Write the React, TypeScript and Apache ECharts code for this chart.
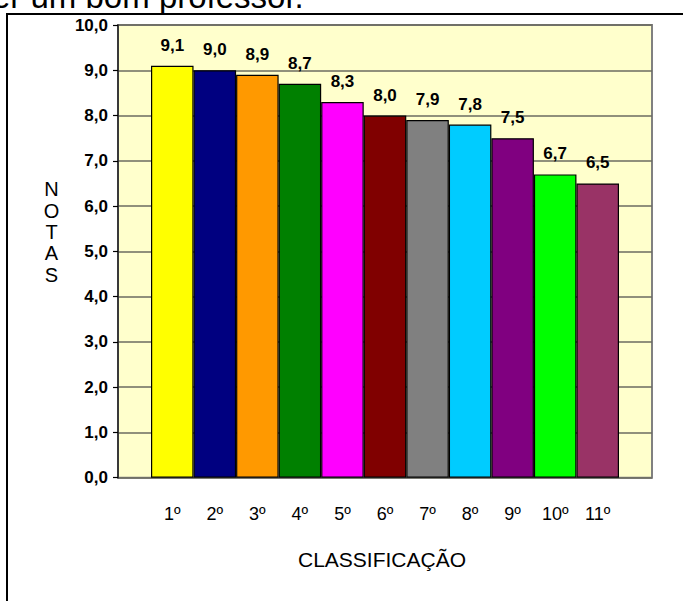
import React, { useEffect, useRef } from "react";
import * as echarts from "echarts";

const categories = ["1º", "2º", "3º", "4º", "5º", "6º", "7º", "8º", "9º", "10º", "11º"];
const notas = [9.1, 9.0, 8.9, 8.7, 8.3, 8.0, 7.9, 7.8, 7.5, 6.7, 6.5];
const barColors = [
  "#FFFF00", "#000080", "#FF9900", "#008000", "#FF00FF", "#800000",
  "#808080", "#00CCFF", "#800080", "#00FF00", "#993366",
];
const yMin = 0;
const yMax = 10;
const yInterval = 1;

const FONT = "'Liberation Sans', Arial, sans-serif";
const fmt = (v: number) => v.toFixed(1).replace(".", ",");

export default function App() {
  const ref = useRef<HTMLDivElement>(null);
  useEffect(() => {
    if (!ref.current) return;
    const chart = echarts.init(ref.current, null, { renderer: "svg" });
    const top = 25;
    const height = 452.7;
    chart.setOption({
      animation: false,
      backgroundColor: "#FFFFFF",
      grid: [
        {
          left: 118, top, width: 534, height,
          show: true, backgroundColor: "#FFFFCC",
          borderColor: "#808080", borderWidth: 2,
        },
        { left: 151, top, width: 468, height },
      ],
      xAxis: [
        { type: "value", gridIndex: 0, min: 0, max: 1, show: false },
        {
          type: "category", gridIndex: 1, data: categories,
          axisLine: { show: false }, axisTick: { show: false },
          axisLabel: { margin: 27, fontSize: 18, color: "#000", fontFamily: FONT },
        },
      ],
      yAxis: [
        {
          type: "value", gridIndex: 0, min: yMin, max: yMax, interval: yInterval,
          axisLine: { show: true, lineStyle: { color: "#222", width: 1.5 } },
          axisTick: { show: true, length: 5, inside: false, lineStyle: { color: "#000", width: 1.2 } },
          axisLabel: {
            margin: 10, fontSize: 17, fontWeight: "bold", color: "#000", fontFamily: FONT,
            formatter: (v: number) => fmt(v),
          },
          splitLine: { show: true, lineStyle: { color: "#6b6b60", width: 1.5 } },
        },
        { type: "value", gridIndex: 1, min: yMin, max: yMax, interval: yInterval, show: false },
      ],
      series: [
        {
          type: "bar", xAxisIndex: 1, yAxisIndex: 1,
          barCategoryGap: "0%",
          data: notas.map((v, i) => ({
            value: v,
            itemStyle: { color: barColors[i], borderColor: "#000", borderWidth: 1.2 },
          })),
          label: {
            show: true, position: "top", distance: 12,
            fontSize: 17, fontWeight: "bold", color: "#000", fontFamily: FONT,
            formatter: (p: any) => fmt(p.value),
          },
        },
      ],
      graphic: [
        {
          type: "rect", z: 0,
          shape: { x: 7, y: 14, width: 720, height: 700 },
          style: { fill: "none", stroke: "#000", lineWidth: 2 },
        },
        {
          type: "text", x: -24.5, y: -4,
          style: {
            text: "ser um bom professor.", fontSize: 33, fontFamily: FONT, fill: "#000",
            align: "left", verticalAlign: "middle", textAlign: "left", textVerticalAlign: "middle",
          },
        },
        {
          type: "text", x: 382, y: 559,
          style: {
            text: "CLASSIFICAÇÃO", fontSize: 21, fontFamily: FONT, fill: "#000",
            align: "center", verticalAlign: "middle", textAlign: "center", textVerticalAlign: "middle",
          },
        },
        {
          type: "text", x: 51.5, y: 232,
          style: {
            text: "N\nO\nT\nA\nS", fontSize: 20, lineHeight: 21.3, fontFamily: FONT, fill: "#000",
            align: "center", verticalAlign: "middle", textAlign: "center", textVerticalAlign: "middle",
          },
        },
      ],
    });
    return () => chart.dispose();
  }, []);
  return (
    <div
      ref={ref}
      style={{ position: "absolute", left: 0, top: 0, width: 683, height: 601 }}
    />
  );
}
